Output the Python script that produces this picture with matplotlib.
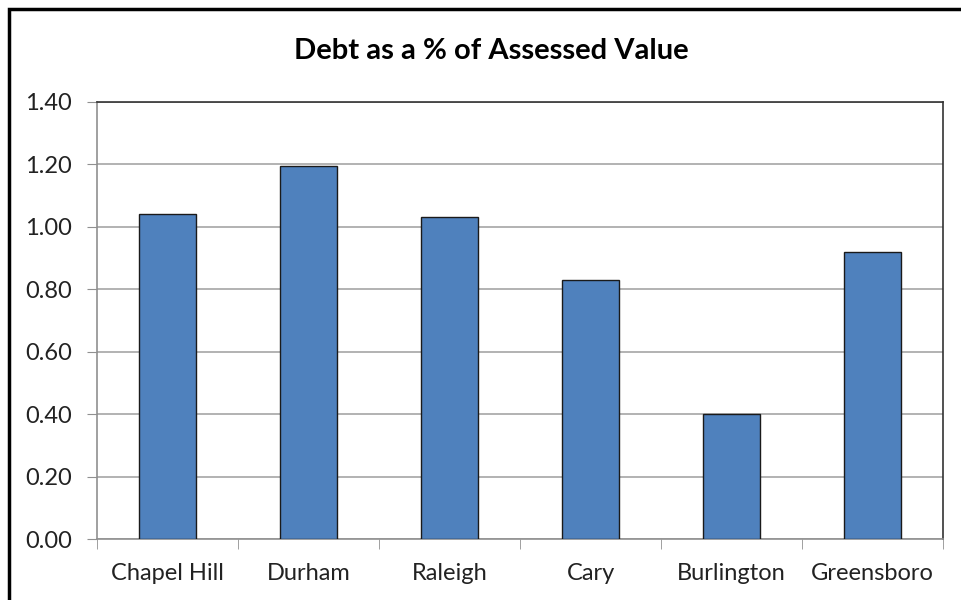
import matplotlib.pyplot as plt
from matplotlib.patches import Rectangle

cities = ["Chapel Hill", "Durham", "Raleigh", "Cary", "Burlington", "Greensboro"]
debt_pct = [1.04, 1.195, 1.03, 0.83, 0.40, 0.92]
y_ticks = [0.0, 0.2, 0.4, 0.6, 0.8, 1.0, 1.2, 1.4]

plt.rcParams["font.family"] = ["Lato", "DejaVu Sans"]

fig = plt.figure(figsize=(9.61, 6.0), dpi=100)
W, H = 961, 600
ax = fig.add_axes([97 / W, 1 - 539 / H, (943 - 97) / W, (539 - 102) / H])

# outer chart border (cut off at right and bottom in the original)
fig.patches.append(Rectangle((9 / W, -0.1), 1.2, (600 - 9) / H + 0.1,
                             transform=fig.transFigure, fill=False,
                             edgecolor="black", linewidth=2.5))

x = range(len(cities))
ax.bar(x, debt_pct, width=0.4, color="#4F81BD", edgecolor="#1a1a1a",
       linewidth=1.0, zorder=3)

ax.set_xlim(-0.5, len(cities) - 0.5)
ax.set_ylim(0, 1.4)
ax.set_yticks(y_ticks)
ax.set_yticklabels([f"{v:.2f}" for v in y_ticks], fontsize=17, color="#222222")
ax.set_xticks(list(x))
ax.set_xticklabels(cities, fontsize=17, color="#222222")
ax.tick_params(axis="x", length=0, pad=17)
ax.set_xticks([i - 0.5 for i in range(len(cities) + 1)], minor=True)
ax.tick_params(axis="x", which="minor", length=7, color="#909090")
ax.tick_params(axis="y", length=7, color="#909090", pad=11)

ax.grid(axis="y", color="#A6A6A6", linewidth=1.2, zorder=0)
ax.spines["left"].set_color("#909090")
ax.spines["bottom"].set_color("#909090")
ax.spines["top"].set_color("#333333")
ax.spines["right"].set_color("#333333")
for s in ax.spines.values():
    s.set_linewidth(1.2)

fig.text(491 / W, 1 - 51 / H, "Debt as a % of Assessed Value", ha="center",
         va="center", fontsize=21, fontweight="bold")

fig.savefig("out.png", dpi=100)
